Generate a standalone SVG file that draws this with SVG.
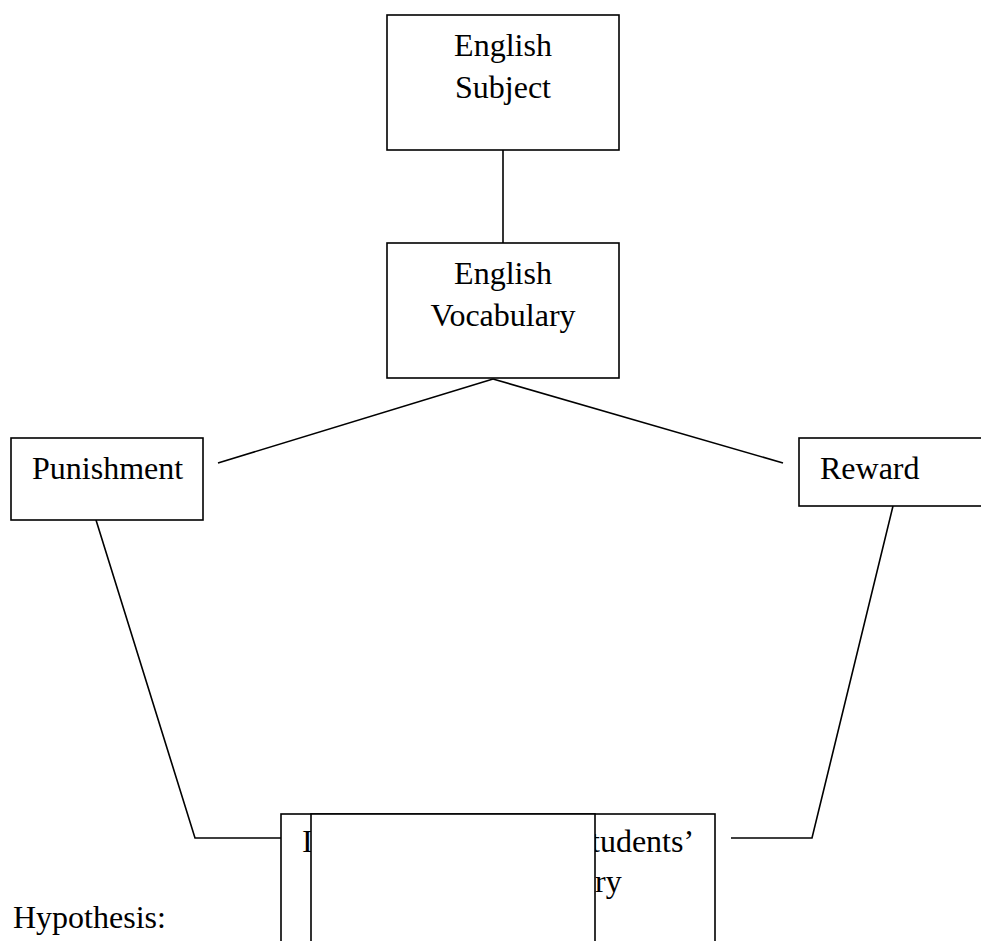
<svg xmlns="http://www.w3.org/2000/svg" width="981" height="941" viewBox="0 0 981 941">
<style>
.box{fill:#fff;stroke:#000;stroke-width:1.6}
.ln{fill:none;stroke:#000;stroke-width:1.6}
text{font-family:"Liberation Serif","Times New Roman",serif;font-size:32px;fill:#000}
.c{text-anchor:middle}
</style>
<rect x="0" y="0" width="981" height="941" fill="#fff"/>
<g id="connectors">
<line class="ln" x1="503" y1="150" x2="503" y2="243"/>
<line class="ln" x1="493" y1="379" x2="218" y2="463"/>
<line class="ln" x1="493" y1="379" x2="783" y2="463"/>
<polyline class="ln" points="96,520 195,838 295,838"/>
<polyline class="ln" points="893,506 812,838 731,838"/>
</g>
<g id="english-subject">
<rect class="box" x="387" y="15" width="232" height="135"/>
<text class="c" x="503" y="56">English</text>
<text class="c" x="503" y="98">Subject</text>
</g>
<g id="english-vocabulary">
<rect class="box" x="387" y="243" width="232" height="135"/>
<text class="c" x="503" y="284">English</text>
<text class="c" x="503" y="326">Vocabulary</text>
</g>
<g id="punishment">
<rect class="box" x="11" y="438" width="192" height="82"/>
<text x="32" y="479">Punishment</text>
</g>
<g id="reward">
<rect class="box" x="799" y="438" width="200" height="68"/>
<text x="820" y="479">Reward</text>
</g>
<g id="students-vocabulary">
<rect class="box" x="281" y="814" width="434" height="140"/>
<text x="302" y="852">I</text>
<text x="591" y="852">tudents’</text>
<text x="595" y="892">ry</text>
<rect class="box" x="311" y="814" width="284" height="140"/>
</g>
<text x="13" y="928">Hypothesis:</text>
</svg>
